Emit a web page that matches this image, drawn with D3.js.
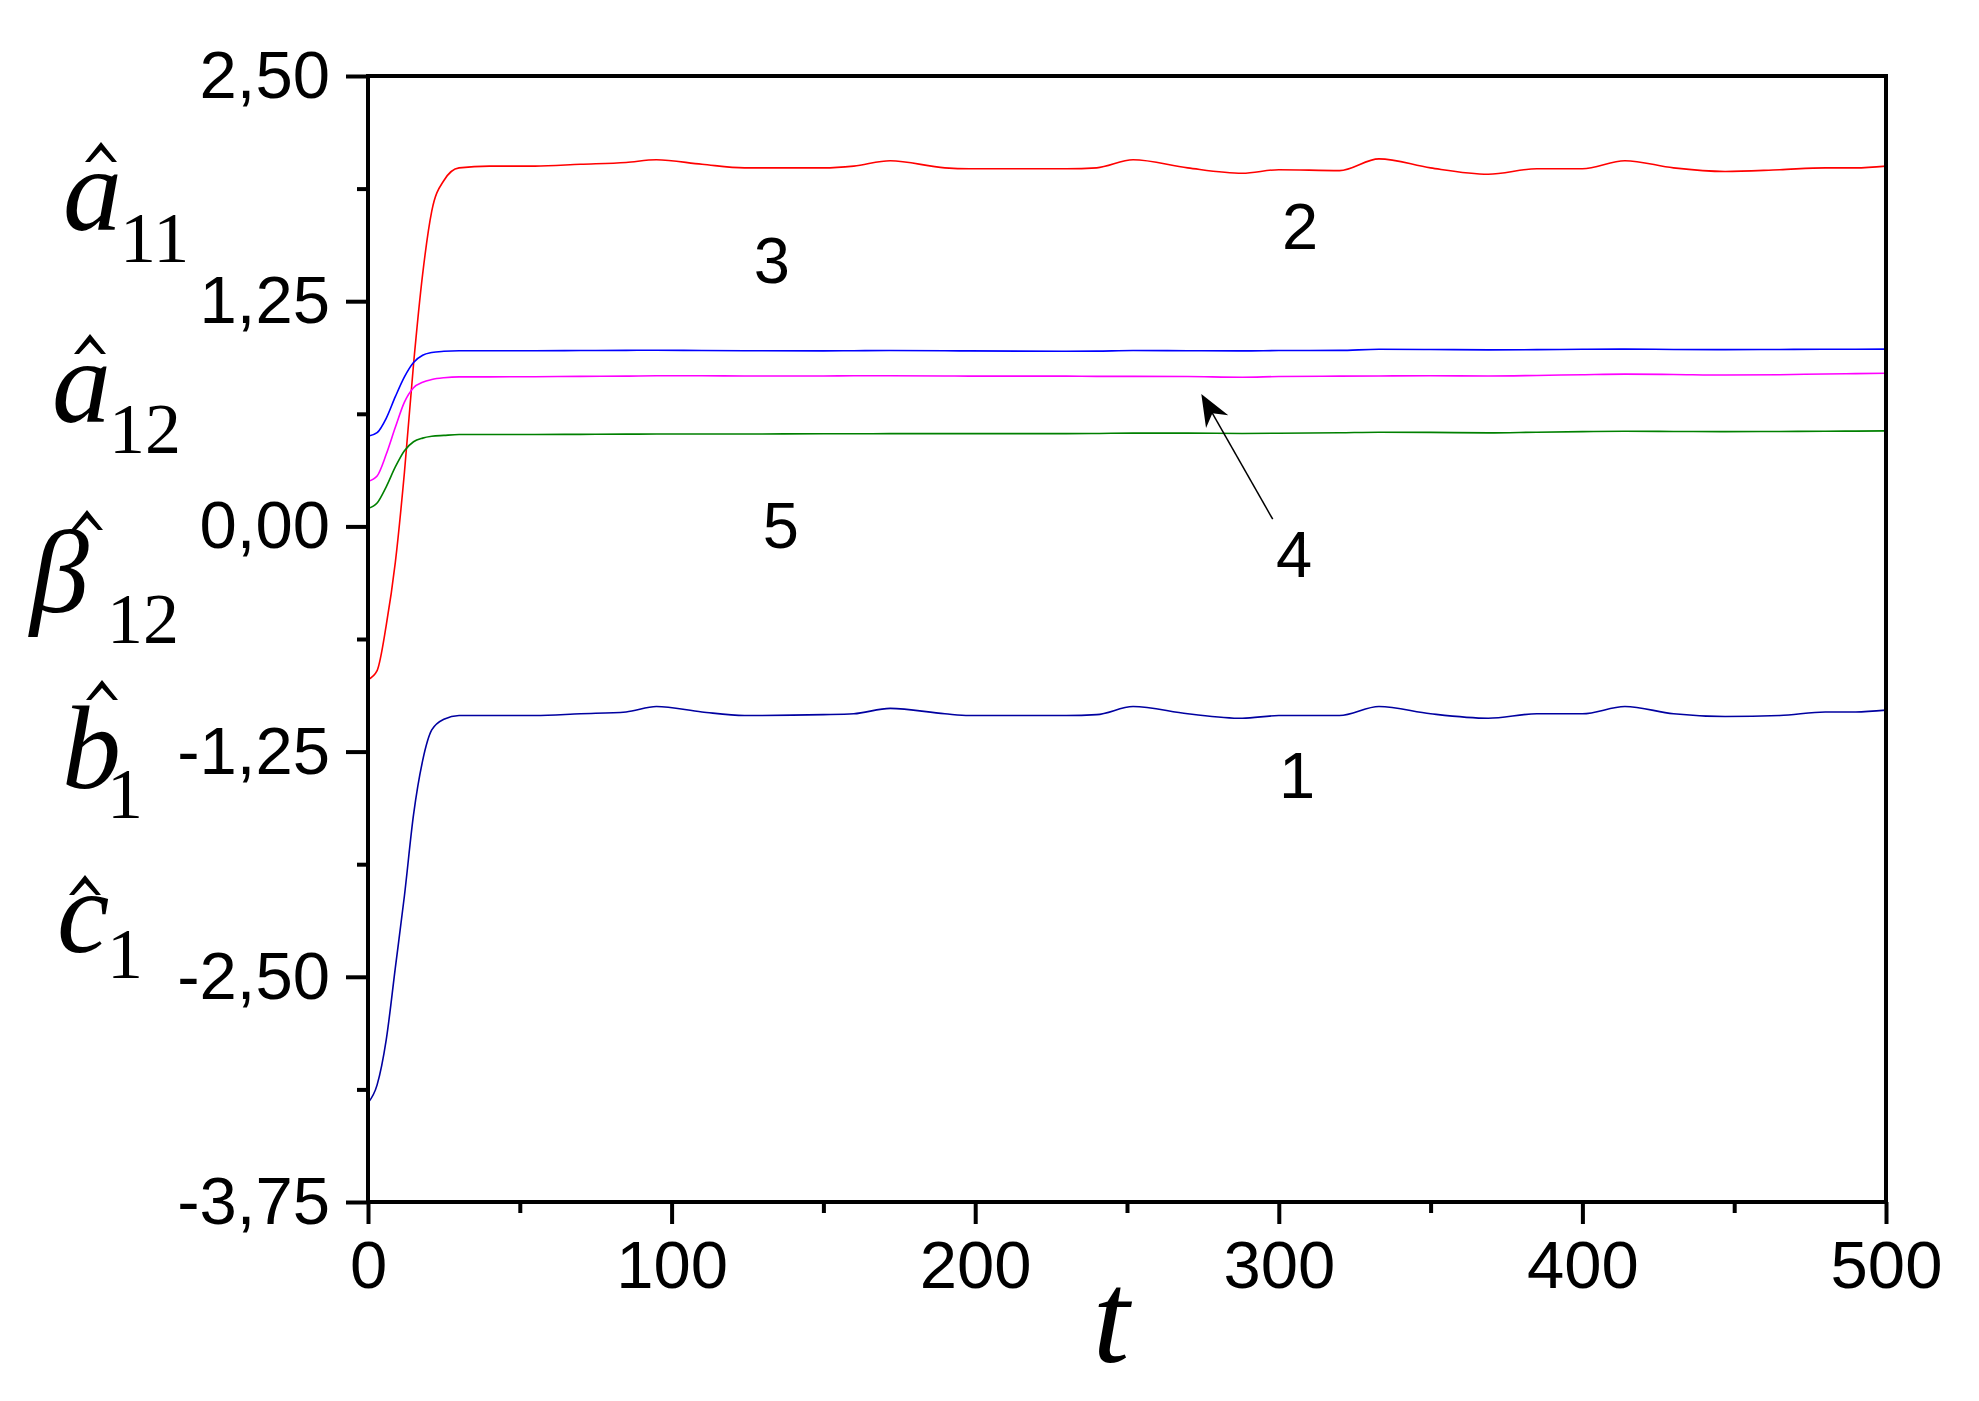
<!DOCTYPE html>
<html>
<head>
<meta charset="utf-8">
<script src="https://cdn.jsdelivr.net/npm/d3@7"></script>
<style>
  body { margin: 0; background: #fff; }
  svg { display: block; }
</style>
</head>
<body>
<div id="chart"></div>
<script>
// t values and curves
const tRise = [0, 3, 6, 9, 12, 15, 18, 21, 25, 30];
const tFlat = [40, 55, 70, 85, 95, 110, 124, 150, 160, 172, 190, 198, 230, 240, 252, 270, 288, 300, 320, 333, 350, 369, 385, 400, 414, 430, 447, 465, 480, 490, 500];

const redRise = [-0.85, -0.8, -0.55, -0.2, 0.3, 0.9, 1.4, 1.75, 1.92, 1.99];
const redFlat = [2.0, 2.0, 2.01, 2.02, 2.035, 2.01, 1.99, 1.99, 2.0, 2.03, 1.99, 1.985, 1.985, 1.99, 2.035, 1.99, 1.96, 1.98, 1.975, 2.04, 1.99, 1.955, 1.985, 1.985, 2.03, 1.99, 1.97, 1.98, 1.99, 1.99, 2.0];

const b1Rise = [-3.2, -3.1, -2.85, -2.45, -2.05, -1.6, -1.3, -1.13, -1.07, -1.05];
const b1Flat = [-1.05, -1.05, -1.04, -1.03, -1.0, -1.03, -1.05, -1.045, -1.04, -1.01, -1.04, -1.05, -1.05, -1.045, -1.0, -1.04, -1.065, -1.05, -1.05, -1.0, -1.04, -1.065, -1.04, -1.04, -1.0, -1.04, -1.055, -1.05, -1.03, -1.03, -1.02];

const b3Rise = [0.5, 0.52, 0.6, 0.72, 0.83, 0.91, 0.95, 0.965, 0.972, 0.975];
const b3Flat = [0.975, 0.975, 0.976, 0.977, 0.978, 0.976, 0.975, 0.974, 0.975, 0.976, 0.975, 0.974, 0.972, 0.973, 0.976, 0.975, 0.974, 0.976, 0.977, 0.983, 0.982, 0.98, 0.981, 0.983, 0.984, 0.982, 0.981, 0.982, 0.983, 0.983, 0.984];

const mgRise = [0.25, 0.28, 0.4, 0.55, 0.69, 0.77, 0.8, 0.815, 0.825, 0.83];
const mgFlat = [0.83, 0.831, 0.833, 0.834, 0.836, 0.836, 0.835, 0.835, 0.836, 0.836, 0.835, 0.834, 0.834, 0.833, 0.833, 0.832, 0.828, 0.832, 0.834, 0.835, 0.836, 0.835, 0.838, 0.842, 0.845, 0.843, 0.84, 0.842, 0.846, 0.848, 0.85];

const grRise = [0.1, 0.13, 0.22, 0.33, 0.42, 0.47, 0.49, 0.5, 0.505, 0.51];
const grFlat = [0.51, 0.51, 0.511, 0.512, 0.513, 0.513, 0.513, 0.514, 0.514, 0.515, 0.515, 0.515, 0.515, 0.516, 0.518, 0.518, 0.516, 0.517, 0.52, 0.523, 0.522, 0.519, 0.523, 0.526, 0.528, 0.527, 0.526, 0.527, 0.528, 0.529, 0.53];

const seriesColors = ["#0000a0", "#ff0000", "#0000ff", "#ff00ff", "#008000"];
const curveLabels = [
  { text: "1", t: 306, v: -1.51 },
  { text: "2", t: 307, v: 1.54 },
  { text: "3", t: 133, v: 1.35 },
  { text: "4", t: 305, v: -0.28 },
  { text: "5", t: 136, v: -0.12 }
];
const arrowFrom = { t: 298, v: 0.04 };
const arrowTo = { t: 275, v: 0.72 };

const yTicks = [2.5, 1.25, 0, -1.25, -2.5, -3.75];
const xTicks = [0, 100, 200, 300, 400, 500];

const W = 1979, H = 1401;
const mLeft = 368, mRight = 1886, mTop = 76, mBottom = 1202;

const svg = d3.select("#chart").append("svg")
  .attr("width", W).attr("height", H);

const x = d3.scaleLinear().domain([0, 500]).range([mLeft, mRight]);
const y = d3.scaleLinear().domain([-3.75, 2.5]).range([mBottom, mTop]);

const tAll = tRise.concat(tFlat);
const series = [
  b1Rise.concat(b1Flat),
  redRise.concat(redFlat),
  b3Rise.concat(b3Flat),
  mgRise.concat(mgFlat),
  grRise.concat(grFlat)
];

const line = d3.line()
  .x((d, i) => x(tAll[i]))
  .y(d => y(d))
  .curve(d3.curveMonotoneX);

svg.append("g").selectAll("path")
  .data(series)
  .join("path")
  .attr("fill", "none")
  .attr("stroke", (d, i) => seriesColors[i])
  .attr("stroke-width", 1.6)
  .attr("d", line);

// frame
svg.append("rect")
  .attr("x", mLeft).attr("y", mTop)
  .attr("width", mRight - mLeft).attr("height", mBottom - mTop)
  .attr("fill", "none").attr("stroke", "#000").attr("stroke-width", 4);

// y axis
const yAxis = svg.append("g")
  .attr("transform", `translate(${mLeft},0)`)
  .call(d3.axisLeft(y).tickValues(yTicks).tickSize(22).tickPadding(16)
    .tickFormat(d => d3.format(".2f")(d).replace(".", ",").replace("−", "-")));
yAxis.append("g").call(d3.axisLeft(y)
  .tickValues(d3.range(-3.125, 2.5, 1.25)).tickSize(11).tickFormat(""));

// x axis
const xAxis = svg.append("g")
  .attr("transform", `translate(0,${mBottom})`)
  .call(d3.axisBottom(x).tickValues(xTicks).tickSize(22).tickPadding(14));
xAxis.append("g").call(d3.axisBottom(x)
  .tickValues(d3.range(50, 500, 100)).tickSize(11).tickFormat(""));

svg.selectAll(".domain").remove();
svg.selectAll(".tick line").attr("stroke", "#000").attr("stroke-width", 4);
svg.selectAll(".tick text")
  .attr("fill", "#000")
  .style("font-family", "Arial, 'Liberation Sans', sans-serif")
  .style("font-size", "67px");
xAxis.selectAll(".tick text").attr("dy", "0.75em");

// curve numbers
svg.append("g").selectAll("text")
  .data(curveLabels)
  .join("text")
  .attr("x", d => x(d.t)).attr("y", d => y(d.v))
  .attr("text-anchor", "middle")
  .style("font-family", "Arial, 'Liberation Sans', sans-serif")
  .style("font-size", "65px")
  .text(d => d.text);

// arrow
svg.append("defs").append("marker")
  .attr("id", "head").attr("viewBox", "0 0 10 10")
  .attr("refX", 9).attr("refY", 5)
  .attr("markerWidth", 32).attr("markerHeight", 32)
  .attr("markerUnits", "userSpaceOnUse")
  .attr("orient", "auto")
  .append("path").attr("d", "M0,1 L10,5 L0,9 L3,5 Z").attr("fill", "#000");
svg.append("line")
  .attr("x1", x(arrowFrom.t)).attr("y1", y(arrowFrom.v))
  .attr("x2", x(arrowTo.t)).attr("y2", y(arrowTo.v))
  .attr("stroke", "#000").attr("stroke-width", 1.5)
  .attr("marker-end", "url(#head)");

// x title
svg.append("text")
  .attr("x", 1111).attr("y", 1362)
  .attr("text-anchor", "middle")
  .style("font-family", "'Liberation Serif', 'Times New Roman', serif")
  .style("font-style", "italic")
  .style("font-size", "132px")
  .text("t");

// left symbols with hats
const symbols = [
  { base: "a", sub: "11", bx: 63, by: 230, sx: 120, sy: 262, hx: 101, hy: 162 },
  { base: "a", sub: "12", bx: 52, by: 422, sx: 109, sy: 453, hx: 90, hy: 354 },
  { base: "β", sub: "12", bx: 30, by: 612, sx: 107, sy: 643, hx: 87, hy: 530 },
  { base: "b", sub: "1", bx: 62, by: 788, sx: 107, sy: 818, hx: 102, hy: 700 },
  { base: "c", sub: "1", bx: 57, by: 952, sx: 107, sy: 978, hx: 85, hy: 895 }
];
const sg = svg.append("g")
  .style("font-family", "'Liberation Serif', 'Times New Roman', serif")
  .attr("fill", "#000");
symbols.forEach(s => {
  sg.append("text").attr("x", s.bx).attr("y", s.by)
    .style("font-style", "italic").style("font-size", "118px").text(s.base);
  sg.append("text").attr("x", s.sx).attr("y", s.sy)
    .style("font-size", "72px").text(s.sub);
  sg.append("path")
    .attr("d", `M${s.hx - 16},${s.hy} L${s.hx},${s.hy - 20} L${s.hx + 16},${s.hy} L${s.hx + 11},${s.hy} L${s.hx},${s.hy - 12} L${s.hx - 11},${s.hy} Z`);
});
</script>
</body>
</html>
